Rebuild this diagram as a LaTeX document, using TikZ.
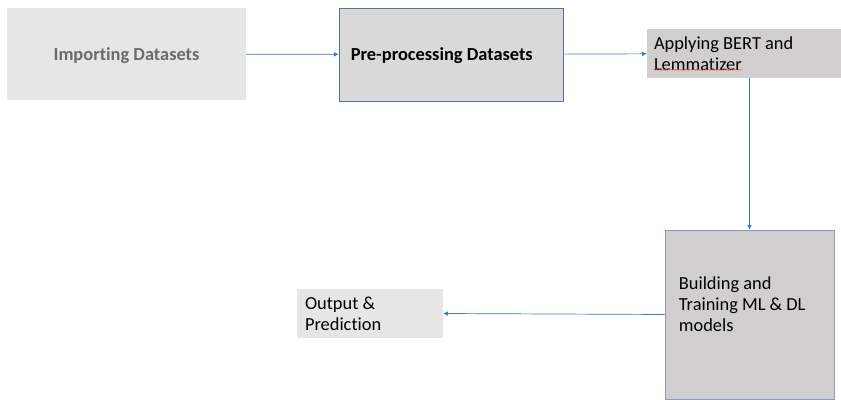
\documentclass[tikz,border=0pt]{standalone}
\usepackage{fontspec}
\setmainfont{Carlito}[Ligatures=NoCommon]
\usetikzlibrary{positioning,calc,arrows.meta,decorations.pathmorphing}

\definecolor{boxlight}{HTML}{E7E6E6}
\definecolor{boxmid}{HTML}{D9D9D9}
\definecolor{boxdark}{HTML}{D0CECE}
\definecolor{flowblue}{HTML}{4472C4}
\definecolor{edgeblue}{HTML}{5B6E9E}

\begin{document}
\begin{tikzpicture}[
    x=0.03cm, y=-0.03cm,
    stepbox/.style={rectangle, inner sep=0pt},
    txt/.style={anchor=west, align=left, inner sep=0pt, font=\fontsize{15.7}{18}\selectfont},
    flow/.style={draw=flowblue, line width=0.6pt, -{Latex[length=4pt,width=4pt]}}
]

\useasboundingbox (0,0) rectangle (841,400);

% Define boxes
\node[stepbox, fill=boxlight, minimum width=7.17cm, minimum height=2.76cm] (import) at (126.5,54) {};
\node[stepbox, fill=boxmid, draw=edgeblue, line width=0.6pt, minimum width=6.72cm, minimum height=2.79cm] (prep) at (451,54.5) {};
\node[stepbox, fill=boxdark, minimum width=5.82cm, minimum height=1.47cm] (bert) at (744,53.5) {};
\node[stepbox, fill=boxdark, draw=edgeblue!70, line width=0.6pt, minimum width=5.07cm, minimum height=5.07cm] (train) at (749.5,314.5) {};
\node[stepbox, fill=boxlight, minimum width=4.38cm, minimum height=1.47cm] (output) at (370,313.5) {};

% Texts
\node[txt, anchor=center, font=\fontsize{15.7}{18}\selectfont\bfseries, text=black!58] (import-t) at ($(import.center)+(0,1.5)$) {Importing Datasets};
\node[txt, font=\fontsize{15.7}{18}\selectfont\bfseries] (prep-t) at ($(prep.west)+(12,1)$) {Pre-processing Datasets};
\node[txt] (bert-t) at ($(bert.west)+(7,0)$) {Applying BERT and\\Lemmatizer};
\node[txt] (train-t) at ($(train.west)+(14,-10)$) {Building and\\Training ML \& DL\\models};
\node[txt] (output-t) at ($(output.west)+(8,0)$) {Output \&\\Prediction};

% Spell-check mark
\draw[red!80, line width=0.3pt, decorate, decoration={snake, amplitude=0.5pt, segment length=2pt}]
    ($(bert-t.south west)+(0,-1)$) -- ++(88,0);

% Arrows
\draw[flow] (import) -- (prep);
\draw[flow] (prep) -- (bert);
\draw[flow] (train.north |- bert.south) -- (train.north);
\draw[flow] (train.west) -- (output.east);

\end{tikzpicture}
\end{document}
